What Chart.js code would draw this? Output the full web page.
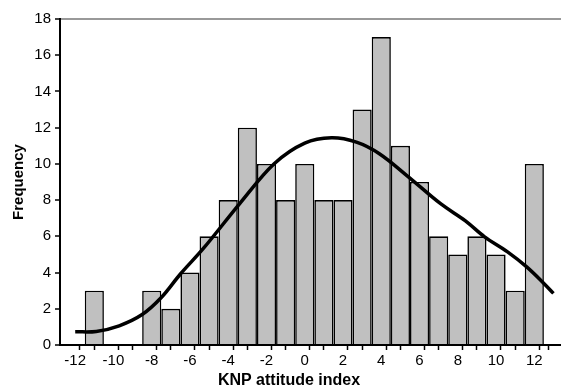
<!DOCTYPE html>
<html>
<head>
<meta charset="utf-8">
<script src="https://cdn.jsdelivr.net/npm/chart.js@4"></script>
<style>
  html, body { margin: 0; padding: 0; background: #fff; }
  #wrap { width: 561px; height: 391px; }
</style>
</head>
<body>
<div id="wrap"><canvas id="histChart"></canvas></div>
<script>
// bin centres and counts
var binCenters = [-11, -8, -7, -6, -5, -4, -3, -2, -1, 0, 1, 2, 3, 4, 5, 6, 7, 8, 9, 10, 11, 12];
var frequencies = [3, 3, 2, 4, 6, 8, 12, 10, 8, 10, 8, 8, 13, 17, 11, 9, 6, 5, 6, 5, 3, 10];

// fitted curve, sampled by eye
var curveX = [-12, -10.9, -9.7, -8.5, -7.5, -6.5, -5.3, -3.4, -1.6, 0, 1.4, 2.7, 3.9, 5.4, 7.1, 8.4, 9.4, 10.6, 11.6, 12.5, 13];
var curveY = [0.73, 0.75, 1.06, 1.68, 2.62, 3.92, 5.33, 7.81, 10.01, 11.15, 11.44, 11.2, 10.56, 9.3, 7.8, 6.85, 5.97, 5.14, 4.31, 3.4, 2.85];

var xTickLabels = [-12, -10, -8, -6, -4, -2, 0, 2, 4, 6, 8, 10, 12];
var xTickMarks = [-11.5, -10.5, -9.5, -8.5, -7.5, -6.5, -5.5, -4.5, -3.5, -2.5, -1.5, -0.5, 0.5, 1.5, 2.5, 3.5, 4.5, 5.5, 6.5, 7.5, 8.5, 9.5, 10.5, 11.5, 12.5];
var yTicks = [0, 2, 4, 6, 8, 10, 12, 14, 16, 18];

var xTitle = 'KNP attitude index';
var yTitle = 'Frequency';

Chart.defaults.font.family = '"Liberation Sans", Arial, sans-serif';
Chart.defaults.color = '#000';

var barPoints = binCenters.map(function (x, i) { return { x: x, y: frequencies[i] }; });
var curvePoints = curveX.map(function (x, i) { return { x: x, y: curveY[i] }; });

// x axis title sits a bit left of the plot centre in the original
var xTitlePlugin = {
  id: 'xTitlePlugin',
  afterDraw: function (chart) {
    var ctx = chart.ctx;
    ctx.save();
    ctx.font = 'bold 16px "Liberation Sans", Arial, sans-serif';
    ctx.fillStyle = '#000';
    ctx.textAlign = 'center';
    ctx.textBaseline = 'middle';
    ctx.fillText(xTitle, 289, 381);
    ctx.restore();
  }
};

var ctx = document.getElementById('histChart').getContext('2d');
var myChart = new Chart(ctx, {
  type: 'bar',
  data: {
    datasets: [{
      type: 'line',
      data: curvePoints,
      borderColor: '#000',
      borderWidth: 3.5,
      pointRadius: 0,
      tension: 0.35,
      fill: false,
      order: 0
    }, {
      type: 'bar',
      data: barPoints,
      backgroundColor: '#c0c0c0',
      borderColor: '#000',
      borderWidth: 1.6,
      // tick marks sit every half unit, so the min spacing is 0.5: double it to fill a whole bin
      barPercentage: 2,
      categoryPercentage: 1,
      order: 1
    }]
  },
  options: {
    responsive: true,
    maintainAspectRatio: false,
    animation: false,
    layout: { padding: { top: 19, right: 0, left: 0, bottom: 0 } },
    plugins: {
      legend: { display: false },
      tooltip: { enabled: false }
    },
    scales: {
      x: {
        type: 'linear',
        min: -12.45,
        max: 13.05,
        afterBuildTicks: function (scale) {
          var vals = xTickMarks.concat(xTickLabels).sort(function (a, b) { return a - b; });
          scale.ticks = vals.map(function (v) { return { value: v }; });
        },
        afterFit: function (scale) { scale.height = 46; },
        ticks: {
          autoSkip: false,
          maxRotation: 0,
          padding: 2,
          font: { size: 15 },
          callback: function (value) {
            return xTickLabels.indexOf(value) >= 0 ? String(value) : '';
          }
        },
        grid: {
          drawOnChartArea: false,
          tickLength: 5,
          tickWidth: 1.5,
          tickColor: function (c) {
            if (!c.tick) return '#000';
            return Number.isInteger(c.tick.value) ? 'rgba(0,0,0,0)' : '#000';
          }
        },
        border: { color: '#000', width: 2 }
      },
      y: {
        min: 0,
        max: 18,
        afterBuildTicks: function (scale) {
          scale.ticks = yTicks.map(function (v) { return { value: v }; });
        },
        afterFit: function (scale) { scale.width = 60; },
        ticks: {
          padding: 4,
          font: { size: 15 }
        },
        grid: {
          tickLength: 5,
          tickWidth: 1.5,
          tickColor: '#000',
          lineWidth: 2,
          color: function (c) {
            return c.tick && c.tick.value === 18 ? '#999' : 'rgba(0,0,0,0)';
          }
        },
        border: { color: '#000', width: 2 },
        title: {
          display: true,
          text: yTitle,
          font: { size: 15, weight: 'bold' },
          padding: { top: 10, bottom: 0 }
        }
      }
    }
  },
  plugins: [xTitlePlugin]
});
</script>
</body>
</html>
